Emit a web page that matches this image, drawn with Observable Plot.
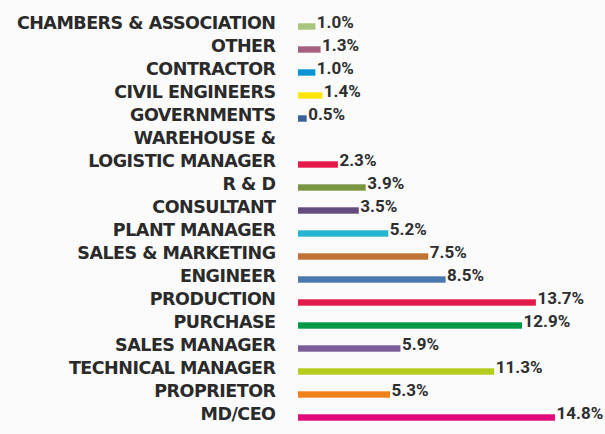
<!DOCTYPE html>
<html>
<head>
<meta charset="utf-8">
<script src="https://cdn.jsdelivr.net/npm/d3@7"></script>
<script src="https://cdn.jsdelivr.net/npm/@observablehq/plot@0.6"></script>
<style>
  html, body { margin: 0; padding: 0; background: #fbfbfc; }
  #chart svg { display: block; }
  #chart g[font-family="DejaVu Sans"] { letter-spacing: -0.5px; }
</style>
</head>
<body>
<div id="chart"></div>
<script>
const categories = [
  "CHAMBERS & ASSOCIATION",
  "OTHER",
  "CONTRACTOR",
  "CIVIL ENGINEERS",
  "GOVERNMENTS",
  "WAREHOUSE &\nLOGISTIC MANAGER",
  "R & D",
  "CONSULTANT",
  "PLANT MANAGER",
  "SALES & MARKETING",
  "ENGINEER",
  "PRODUCTION",
  "PURCHASE",
  "SALES MANAGER",
  "TECHNICAL MANAGER",
  "PROPRIETOR",
  "MD/CEO"
];
const values = [1.0, 1.3, 1.0, 1.4, 0.5, 2.3, 3.9, 3.5, 5.2, 7.5, 8.5, 13.7, 12.9, 5.9, 11.3, 5.3, 14.8];
const colors = [
  "#a9c47f", "#a5607f", "#0a94d6", "#ffe500", "#3a6296", "#e5194a",
  "#7a9442", "#644c7e", "#27b6cf", "#c07332", "#4a77ad", "#e31b4b",
  "#009a47", "#7a5c9a", "#b5cc1d", "#f08019", "#e2097a"
];

const data = categories.map((c, i) => ({category: c, value: values[i], color: colors[i]}));

// one row per label line; a multi-line label's bar sits on its last line
const labelLines = categories.flatMap(c => {
  const parts = c.split("\n");
  return parts.map((line, i) => ({line, row: i === parts.length - 1 ? c : c + "#" + i}));
});
const rows = labelLines.map(d => d.row);

const chart = Plot.plot({
  width: 605,
  height: 434,
  marginLeft: 298,
  marginRight: 50,
  marginTop: 5,
  marginBottom: 4,
  style: {background: "transparent", overflow: "visible"},
  x: {domain: [0, 14.8], axis: null},
  y: {domain: rows, padding: 0, axis: null},
  marks: [
    Plot.barX(data, {
      x: "value", y: "category", fill: "color",
      insetTop: 12.3, insetBottom: 4.3
    }),
    Plot.text(labelLines, {
      x: 0, y: "row", text: "line",
      textAnchor: "end", dx: -23,
      fontFamily: "DejaVu Sans", fontWeight: "bold", fontSize: 17.5,
      fill: "#2a2a2a"
    }),
    Plot.text(data, {
      x: "value", y: "category", text: d => d.value.toFixed(1) + "%",
      textAnchor: "start", dx: 1, dy: 0,
      fontFamily: "Roboto", fontWeight: "bold", fontSize: 17,
      fill: "#2e2e2e"
    })
  ]
});
document.getElementById("chart").append(chart);
</script>
</body>
</html>
